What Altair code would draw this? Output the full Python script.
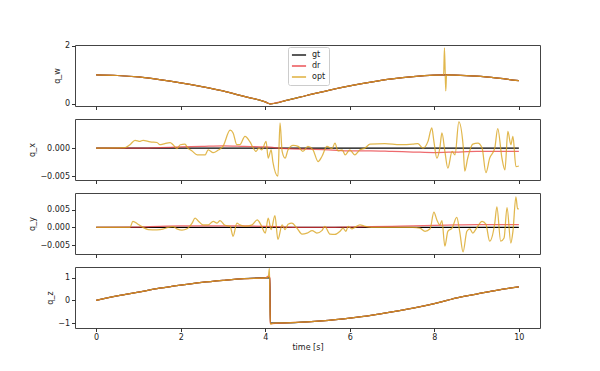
import altair as alt
import pandas as pd

# ---------------- data ----------------
series_names = ["gt", "dr", "opt"]
series_colors = ["#000000", "#e8383d", "#daa520"]
x_ticks = [0, 2, 4, 6, 8, 10]

# ground truth (smooth) — q_w / q_z
t_gt = [0, 0.5, 1, 1.5, 2, 2.5, 3, 3.5, 4, 4.11, 4.12, 4.5, 5, 5.5, 6, 6.5,
        7, 7.5, 8, 8.3, 8.5, 9, 9.5, 10]
qw_gt = [1.0, 0.98, 0.93, 0.84, 0.73, 0.6, 0.45, 0.26, 0.07, 0.005, 0.005, 0.12,
         0.3, 0.47, 0.62, 0.75, 0.86, 0.94, 0.99, 1.0, 0.995, 0.96, 0.89, 0.80]
qz_gt = [0.0, 0.2, 0.37, 0.54, 0.68, 0.8, 0.89, 0.965, 0.998, 1.0, -1.0, -0.993,
         -0.95, -0.88, -0.78, -0.66, -0.51, -0.34, -0.14, 0.0, 0.1, 0.28, 0.46, 0.6]
qx_gt = [0.0] * len(t_gt)
qy_gt = [0.0] * len(t_gt)

# dead reckoning
t_dr = [0, 1, 1.5, 2, 2.5, 3, 3.5, 4, 4.5, 5, 5.5, 6, 6.5, 7, 7.5, 8, 8.5, 9, 9.5, 10]
qx_dr = [0.0, 0.0, 0.0001, 0.0002, 0.0003, 0.0004, 0.0003, 0.0002, -0.0001, -0.0002,
         -0.0003, -0.0005, -0.0005, -0.0006, -0.0007, -0.0008, -0.0007, -0.0006,
         -0.0006, -0.0006]
qy_dr = [0.0, 0.0001, 0.0003, 0.0004, 0.0004, 0.0004, 0.0004, 0.0003, 0.0001, 0.0,
         0.0, 0.0001, 0.0002, 0.0003, 0.0004, 0.0006, 0.0007, 0.0008, 0.0008, 0.0008]
t_dr_wz = [0, 0.5, 1, 1.5, 2, 2.5, 3, 3.5, 4, 4.08, 4.11, 4.12, 4.15, 4.5, 5, 5.5,
           6, 6.5, 7, 7.5, 8, 8.3, 8.5, 9, 9.5, 10]
qw_dr = [1.0, 0.98, 0.93, 0.84, 0.73, 0.6, 0.45, 0.26, 0.07, 0.02, 0.005, 0.005,
         0.01, 0.12, 0.3, 0.47, 0.62, 0.75, 0.86, 0.94, 0.99, 1.0, 0.995, 0.96,
         0.89, 0.80]
qz_dr = [0.0, 0.2, 0.37, 0.54, 0.68, 0.8, 0.89, 0.965, 0.998, 1.08, 1.0, -1.0,
         -1.03, -0.993, -0.95, -0.88, -0.78, -0.66, -0.51, -0.34, -0.14, 0.0, 0.1,
         0.28, 0.46, 0.6]

# optimised
t_opt_w = [0, 0.5, 1, 1.5, 2, 2.5, 3, 3.5, 4, 4.11, 4.12, 4.5, 5, 5.5, 6, 6.5,
           7, 7.5, 8, 8.22, 8.24, 8.27, 8.29, 8.5, 9, 9.5, 10]
qw_opt = [1.0, 0.98, 0.93, 0.84, 0.73, 0.6, 0.45, 0.26, 0.07, 0.005, 0.005, 0.12,
          0.3, 0.47, 0.62, 0.75, 0.86, 0.94, 0.99, 1.0, 1.93, 0.45, 1.0, 0.995,
          0.96, 0.89, 0.80]
t_opt_z = [0, 0.5, 1, 1.5, 2, 2.5, 3, 3.5, 4, 4.07, 4.1, 4.12, 4.2, 4.5, 5, 5.5,
           6, 6.5, 7, 7.5, 8, 8.3, 8.5, 9, 9.5, 10]
qz_opt = [0.0, 0.2, 0.37, 0.54, 0.68, 0.8, 0.89, 0.965, 0.998, 1.02, 1.42, -1.05,
          -1.0, -0.993, -0.95, -0.88, -0.78, -0.66, -0.51, -0.34, -0.14, 0.0, 0.1,
          0.28, 0.46, 0.6]
t_opt_x = [0, 0.69, 0.8, 0.92, 1.04, 1.11, 1.28, 1.44, 1.51, 1.58, 1.75, 1.82, 1.91,
           1.99, 2.1, 2.17, 2.27, 2.39, 2.58, 2.65, 2.77, 2.88, 3.0, 3.17, 3.24, 3.33,
           3.4, 3.52, 3.64, 3.71, 3.78, 3.85, 3.92, 4.02, 4.07, 4.14, 4.18, 4.3, 4.35,
           4.4, 4.47, 4.54, 4.66, 4.78, 4.89, 5.01, 5.13, 5.25, 5.34, 5.46, 5.58,
           5.65, 5.72, 5.82, 5.89, 6.0, 6.12, 6.24, 6.36, 6.48, 6.83, 7.19, 7.49,
           7.61, 7.73, 7.85, 7.94, 7.99, 8.06, 8.13, 8.18, 8.25, 8.32, 8.42, 8.49,
           8.58, 8.68, 8.72, 8.79, 8.91, 9.03, 9.13, 9.22, 9.31, 9.43, 9.5, 9.6,
           9.67, 9.74, 9.81, 9.86, 9.93, 10.0]
qx_opt = [0.0, 0.0001, 0.0006, 0.0014, 0.0012, 0.0014, 0.0011, 0.0010, 0.0006,
          0.0007, 0.0010, 0.0006, -0.0001, 0.0006, 0.0007, 0.0, -0.0005, -0.0012,
          -0.0012, -0.0003, -0.0008, -0.0004, 0.0003, 0.0032, 0.0027, 0.0006,
          0.0006, 0.0021, 0.0011, 0.0001, -0.0006, 0.0, -0.0003, 0.0012, -0.0018,
          -0.0003, -0.0024, -0.0050, 0.0045, -0.0006, -0.0018, -0.0003, 0.0005,
          0.0003, -0.0006, 0.0003, -0.0003, -0.0024, -0.0015, 0.0003, -0.0001,
          0.0009, -0.0005, -0.0003, -0.0012, -0.0003, -0.0012, -0.0003, 0.0,
          0.0007, 0.0008, 0.0006, 0.0007, 0.0008, 0.0, 0.0012, 0.0036, 0.0012,
          -0.0018, 0.0, 0.0027, -0.0006, -0.0036, -0.0006, -0.0012, 0.0047, 0.0006,
          -0.0041, -0.0018, 0.0007, 0.0009, 0.0, -0.0044, -0.0018, 0.0, 0.0035,
          -0.0018, -0.0039, 0.0030, 0.0006, 0.0021, -0.0033, -0.0032]
t_opt_y = [0, 0.8, 0.87, 0.99, 1.11, 1.23, 1.44, 1.58, 1.7, 1.82, 1.91, 2.03, 2.15,
           2.27, 2.34, 2.41, 2.53, 2.65, 2.77, 2.86, 2.93, 3.05, 3.17, 3.24, 3.33,
           3.4, 3.52, 3.69, 3.81, 3.9, 4.0, 4.07, 4.14, 4.23, 4.3, 4.4, 4.47, 4.54,
           4.63, 4.75, 4.87, 4.99, 5.11, 5.22, 5.34, 5.41, 5.53, 5.65, 5.77, 5.84,
           5.91, 5.96, 6.05, 6.12, 6.24, 6.36, 6.52, 6.83, 7.49, 7.66, 7.78, 7.9,
           7.99, 8.06, 8.13, 8.18, 8.25, 8.32, 8.42, 8.53, 8.6, 8.68, 8.77, 8.84,
           8.91, 9.0, 9.13, 9.22, 9.31, 9.43, 9.48, 9.57, 9.65, 9.72, 9.81, 9.86,
           9.93, 9.97, 10.0]
qy_opt = [0.0, 0.0, 0.0017, 0.0009, 0.0, -0.0006, -0.0007, -0.0005, 0.0, 0.0002,
          -0.0004, -0.0008, -0.0004, 0.0012, 0.0026, 0.0019, 0.0007, 0.0007, 0.0017,
          0.0012, 0.0019, 0.0006, 0.0003, -0.0025, 0.0012, 0.0007, 0.0003, 0.0007,
          0.0021, 0.0007, -0.0016, 0.0026, -0.0006, 0.0033, -0.0034, 0.0007,
          -0.0006, 0.0009, 0.0012, -0.0002, -0.0019, -0.0016, -0.0009, -0.0016,
          -0.0009, 0.0003, -0.0019, -0.0020, -0.0011, -0.0002, -0.0011, 0.0003,
          -0.0004, 0.0, 0.0007, 0.0003, 0.0, 0.0, 0.0, -0.0002, -0.0011, -0.0004,
          0.0043, 0.0021, 0.0007, 0.0019, -0.0053, -0.0011, -0.0002, 0.0028,
          -0.0011, -0.0069, -0.0011, -0.0004, -0.0016, -0.0002, 0.0017, 0.0009,
          -0.0039, 0.0012, 0.0058, -0.0039, -0.0030, 0.0056, -0.0044, -0.0011,
          0.0086, 0.0052, 0.0052]

# ---------------- build long table ----------------
records = []
def add(times, vals, series, comp):
    for t, v in zip(times, vals):
        records.append({"time": t, "value": v, "series": series, "comp": comp})

add(t_gt, qw_gt, "gt", "q_w"); add(t_gt, qx_gt, "gt", "q_x")
add(t_gt, qy_gt, "gt", "q_y"); add(t_gt, qz_gt, "gt", "q_z")
add(t_dr_wz, qw_dr, "dr", "q_w"); add(t_dr, qx_dr, "dr", "q_x")
add(t_dr, qy_dr, "dr", "q_y"); add(t_dr_wz, qz_dr, "dr", "q_z")
add(t_opt_w, qw_opt, "opt", "q_w"); add(t_opt_x, qx_opt, "opt", "q_x")
add(t_opt_y, qy_opt, "opt", "q_y"); add(t_opt_z, qz_opt, "opt", "q_z")
df = pd.DataFrame(records)

FONT = "DejaVu Sans"
W, H = 465, 61
opac = {"gt": 1.0, "dr": 0.75, "opt": 0.8}


def panel(comp, domain, ticks, fmt, bottom, with_legend):
    x = alt.X("time:Q",
              scale=alt.Scale(domain=[-0.5, 10.5], nice=False, zero=False),
              axis=alt.Axis(values=x_ticks, labels=bottom, format="d",
                            title="time [s]" if bottom else None,
                            domain=False, grid=False, tickSize=3.5,
                            tickColor="#333", labelPadding=2,
                            labelFontSize=8, titleFontSize=8,
                            titleFontWeight="normal", labelFont=FONT,
                            titleFont=FONT, titlePadding=2,
                            labelColor="#222", titleColor="#222"))
    y = alt.Y("value:Q",
              scale=alt.Scale(domain=domain, nice=False, zero=False),
              axis=alt.Axis(values=ticks, format=fmt, title=comp,
                            domain=False, grid=False, tickSize=3.5,
                            tickColor="#333", labelPadding=2,
                            labelFontSize=8, titleFontSize=8,
                            titleFontWeight="normal", labelFont=FONT,
                            titleFont=FONT, titlePadding=3,
                            labelColor="#222", titleColor="#222"))
    if with_legend:
        leg = alt.Legend(orient="none", legendX=213, legendY=2, title=None,
                         symbolType="stroke", symbolSize=200, clipHeight=10,
                         symbolStrokeWidth=1.3, fillColor="white",
                         strokeColor="#cccccc", padding=3, cornerRadius=2,
                         labelFontSize=8, labelFont=FONT, rowPadding=1,
                         labelOffset=5, labelColor="#222")
    else:
        leg = None
    color = alt.Color("series:N",
                      scale=alt.Scale(domain=series_names, range=series_colors),
                      legend=leg)
    base = alt.Chart(df[df["comp"] == comp])
    layers = [
        base.transform_filter(alt.datum.series == s)
        .mark_line(strokeWidth=1.25, opacity=opac[s], clip=True,
                   interpolate="monotone")
        .encode(x=x, y=y, color=color)
        for s in series_names
    ]
    return alt.layer(*layers).properties(width=W, height=H)


p1 = panel("q_w", [-0.07, 2.03], [0, 1, 2], "d", False, True)
p2 = panel("q_x", [-0.0057, 0.0052], [-0.005, 0.0], ".3f", False, False)
p3 = panel("q_y", [-0.0075, 0.0097], [-0.005, 0.0, 0.005], ".3f", False, False)
p4 = panel("q_z", [-1.22, 1.48], [-1, 0, 1], "d", True, False)

chart = (
    alt.vconcat(p1, p2, p3, p4, spacing=7)
    .resolve_scale(color="independent")
    .properties(padding={"left": 20, "top": 33, "right": 5, "bottom": 5},
                background="white")
    .configure_view(stroke="#444", strokeWidth=1)
)

chart.save("out.html", embed_options={"renderer": "svg", "actions": False})
